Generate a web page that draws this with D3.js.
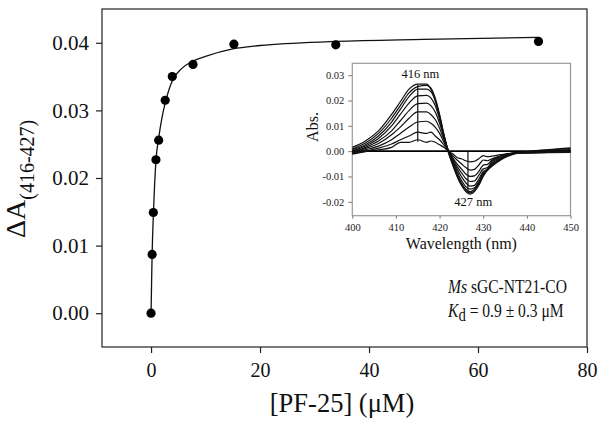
<!DOCTYPE html>
<html>
<head>
<meta charset="utf-8">
<script src="https://cdn.jsdelivr.net/npm/d3@7"></script>
<style>
  html, body { margin: 0; padding: 0; background: #fff; }
  svg { display: block; font-family: "Liberation Serif", "Times New Roman", serif; }
</style>
</head>
<body>
<svg id="chart" width="604" height="427"></svg>
<script>
// ---------------- data ----------------
// main titration: [PF-25] (µM) vs ΔA(416-427)
const concentration = [0, 0.2, 0.42, 0.9, 1.4, 2.6, 3.9, 7.7, 15.2, 33.9, 71.1];
const deltaA        = [0, 0.0087, 0.0149, 0.0227, 0.0256, 0.0315, 0.0350, 0.0368, 0.0398, 0.0397, 0.0402];

// fitted binding curve
const fitX = [0, 0.1, 0.2, 0.45, 0.9, 1.4, 2.0, 2.6, 3.9, 5.5, 7.7, 10, 15, 20, 34, 50, 71];
const fitY = [0, 0.0045, 0.0088, 0.0150, 0.0226, 0.0259, 0.0289, 0.0311, 0.0344, 0.0361, 0.0373, 0.0380, 0.0391, 0.0396, 0.0402, 0.0405, 0.0408];

const xTicks = [0, 20, 40, 60, 80];
const yTicks = [0.00, 0.01, 0.02, 0.03, 0.04];

// inset: difference spectra (Abs. x 1e-3) at these wavelengths
const wavelengths = [400,403,406,409,411,413,415,417,418,419,420,421,422,423,424,425,426,427,428,429,430,431,432,434,437,440,445,450];
const spec1 = [1.5,4.0,8.0,14.5,19.5,24.5,26.5,26.5,24.5,20.0,13.5,6.0,-0.5,-5.5,-10.0,-13.5,-16.0,-17.0,-16.0,-13.5,-10.0,-7.5,-6.0,-3.5,-1.2,-0.3,0.6,1.3];
const spec2 = [0.8,3.2,7.0,13.0,18.0,23.0,25.5,26.0,25.0,21.0,14.5,6.5,-0.3,-5.0,-9.5,-13.0,-15.5,-16.5,-15.5,-13.0,-9.5,-7.0,-5.5,-3.2,-1.0,-0.2,0.5,1.0];
const spec3 = [0.5,2.5,6.0,11.5,16.5,21.5,24.5,24.5,23.5,20.0,14.0,6.5,0.0,-4.5,-9.0,-12.5,-15.0,-16.0,-15.0,-12.5,-9.0,-7.5,-5.5,-3.0,-1.0,-0.3,0.3,0.6];
const spec4 = [0.0,2.0,5.0,10.0,14.5,19.0,21.8,22.0,21.0,18.0,12.5,6.0,0.2,-4.0,-8.0,-11.5,-14.0,-15.0,-14.5,-12.0,-8.5,-7.5,-5.0,-2.8,-1.0,-0.4,0.1,0.3];
const spec5 = [-0.3,1.5,4.0,8.0,12.0,16.0,18.8,19.0,18.0,15.5,11.0,5.5,0.3,-3.5,-7.0,-10.0,-12.5,-13.8,-13.5,-11.0,-8.0,-7.0,-4.5,-2.5,-0.8,-0.4,0.0,0.1];
const spec6 = [-0.6,1.0,3.0,6.5,9.5,13.0,15.5,15.5,14.5,12.5,9.0,4.5,0.3,-3.0,-6.0,-8.5,-10.8,-12.0,-11.8,-9.5,-7.0,-6.5,-4.0,-2.2,-0.8,-0.5,-0.2,0.0];
const spec7 = [-0.8,0.5,2.0,4.5,7.0,9.5,11.5,11.8,11.0,9.5,7.0,3.5,0.3,-2.5,-5.0,-7.0,-9.0,-10.0,-9.8,-8.0,-5.5,-5.2,-3.5,-2.0,-0.8,-0.6,-0.3,-0.2];
const spec8 = [-1.0,0.0,1.2,2.8,4.5,6.0,7.5,7.0,7.5,6.0,4.5,2.5,0.2,-1.8,-3.5,-5.0,-6.5,-7.5,-7.2,-5.5,-3.5,-3.8,-3.0,-1.8,-0.8,-0.7,-0.5,-0.4];
const spec9 = [-1.2,-0.2,0.5,1.5,3.5,3.5,4.5,3.5,4.0,3.5,2.5,1.5,0.0,-1.0,-2.5,-3.0,-3.8,-4.2,-4.0,-3.0,-1.8,-2.2,-2.0,-1.4,-0.8,-0.8,-0.6,-0.5];
const spectra = [spec1, spec2, spec3, spec4, spec5, spec6, spec7, spec8, spec9];

const insetXTicks = [400, 410, 420, 430, 440, 450];
const insetYTicks = [-0.02, -0.01, 0.00, 0.01, 0.02, 0.03];
// vertical markers in the inset: wavelength, from, to (Abs.)
const markerWl   = [415, 426.5];
const markerFrom = [0.0037, 0.0];
const markerTo   = [0.0262, -0.0165];
const markerLabel = ["416 nm", "427 nm"];
const markerLabelWl = [415.6, 427.7];
const markerLabelAbs = [0.029, -0.0215];

// ---------------- drawing ----------------
const svg = d3.select("#chart");
const M = { left: 102, right: 587, top: 9, bottom: 347 };

const x = d3.scaleLinear().domain([-9, 80]).range([M.left, M.right]);
const y = d3.scaleLinear().domain([-0.005, 0.045]).range([M.bottom, M.top]);

// frame
svg.append("rect")
  .attr("x", M.left).attr("y", M.top)
  .attr("width", M.right - M.left).attr("height", M.bottom - M.top)
  .attr("fill", "none").attr("stroke", "#222").attr("stroke-width", 1.2);

// axes
const xAxis = svg.append("g").attr("transform", `translate(0,${M.bottom})`)
  .call(d3.axisBottom(x).tickValues(xTicks).tickSize(6).tickPadding(10).tickFormat(d3.format("d")));
const yAxis = svg.append("g").attr("transform", `translate(${M.left},0)`)
  .call(d3.axisLeft(y).tickValues(yTicks).tickSize(6).tickPadding(7).tickFormat(d3.format(".2f")));
[xAxis, yAxis].forEach(g => {
  g.select(".domain").remove();
  g.selectAll("line").attr("stroke", "#222").attr("stroke-width", 1.2);
  g.selectAll("text").attr("font-family", "Liberation Serif").attr("font-size", 20).attr("fill", "#111");
});
yAxis.selectAll("text").attr("font-size", 21);

// fit curve
svg.append("path")
  .datum(fitX.map((d, i) => [d, fitY[i]]))
  .attr("fill", "none").attr("stroke", "#111").attr("stroke-width", 1.3)
  .attr("d", d3.line().x(d => x(d[0])).y(d => y(d[1])).curve(d3.curveMonotoneX));

// points
svg.append("g").selectAll("circle")
  .data(concentration.map((d, i) => [d, deltaA[i]]))
  .join("circle")
  .attr("cx", d => x(d[0])).attr("cy", d => y(d[1])).attr("r", 4.6)
  .attr("fill", "#000");

// axis titles
svg.append("text")
  .attr("x", 342).attr("y", 412).attr("text-anchor", "middle")
  .attr("font-size", 26.5).attr("fill", "#111")
  .text("[PF-25] (μM)");

const yl = svg.append("text")
  .attr("transform", "translate(25,238) rotate(-90)")
  .attr("fill", "#111");
yl.append("tspan").attr("font-size", 28).text("ΔA");
yl.append("tspan").attr("font-size", 20).attr("dy", 9).text("(416-427)");

// annotation
const a1 = svg.append("text").attr("transform", "translate(448,293) scale(0.82,1)")
  .attr("font-size", 19).attr("fill", "#111");
a1.append("tspan").attr("font-style", "italic").text("Ms");
a1.append("tspan").text(" sGC-NT21-CO");
const a2 = svg.append("text").attr("transform", "translate(448,317) scale(0.82,1)")
  .attr("font-size", 19).attr("fill", "#111");
a2.append("tspan").attr("font-style", "italic").text("K");
a2.append("tspan").attr("font-size", 18).attr("dy", 4).text("d");
a2.append("tspan").attr("dy", -4).text(" = 0.9 ± 0.3 μM");

// ---------------- inset ----------------
const I = { left: 352.3, right: 570.5, top: 63.3, bottom: 215.7 };
const ix = d3.scaleLinear().domain([400, 450]).range([I.left, I.right]);
const iy = d3.scaleLinear().domain([-0.0255, 0.0347]).range([I.bottom, I.top]);

svg.append("rect")
  .attr("x", I.left).attr("y", I.top)
  .attr("width", I.right - I.left).attr("height", I.bottom - I.top)
  .attr("fill", "#fff").attr("stroke", "#999").attr("stroke-width", 1.2);

const ixAxis = svg.append("g").attr("transform", `translate(0,${I.bottom})`)
  .call(d3.axisBottom(ix).tickValues(insetXTicks).tickSize(3).tickPadding(5).tickFormat(d3.format("d")));
const iyAxis = svg.append("g").attr("transform", `translate(${I.left},0)`)
  .call(d3.axisLeft(iy).tickValues(insetYTicks).tickSize(4).tickPadding(4).tickFormat(d => d3.format(".2f")(d).replace("−", "-")));
[ixAxis, iyAxis].forEach(g => {
  g.select(".domain").remove();
  g.selectAll("line").attr("stroke", "#777").attr("stroke-width", 1);
  g.selectAll("text").attr("font-family", "Liberation Serif").attr("font-size", 10.5).attr("fill", "#222");
});

// zero line
svg.append("line")
  .attr("x1", ix(400)).attr("x2", ix(450)).attr("y1", iy(0)).attr("y2", iy(0))
  .attr("stroke", "#000").attr("stroke-width", 1.8);

// spectra
const sLine = d3.line().x(d => ix(d[0])).y(d => iy(d[1] / 1000)).curve(d3.curveMonotoneX);
svg.append("g").selectAll("path")
  .data(spectra.map(s => wavelengths.map((w, i) => [w, s[i]])))
  .join("path")
  .attr("fill", "none").attr("stroke", "#111").attr("stroke-width", 1.2)
  .attr("d", sLine);

// markers
svg.append("g").selectAll("line")
  .data(markerWl.map((w, i) => i))
  .join("line")
  .attr("x1", i => ix(markerWl[i])).attr("x2", i => ix(markerWl[i]))
  .attr("y1", i => iy(markerFrom[i])).attr("y2", i => iy(markerTo[i]))
  .attr("stroke", "#111").attr("stroke-width", 1.2);
svg.append("g").selectAll("text")
  .data(markerLabel.map((t, i) => i))
  .join("text")
  .attr("x", i => ix(markerLabelWl[i])).attr("y", i => iy(markerLabelAbs[i]))
  .attr("text-anchor", "middle").attr("font-size", 12.5).attr("fill", "#111")
  .text(i => markerLabel[i]);

// inset titles
svg.append("text")
  .attr("x", (I.left + I.right) / 2).attr("y", 249).attr("text-anchor", "middle")
  .attr("font-size", 16).attr("fill", "#111").text("Wavelength (nm)");
svg.append("text")
  .attr("transform", "translate(318,127) rotate(-90)").attr("text-anchor", "middle")
  .attr("font-size", 16).attr("fill", "#111").text("Abs.");
</script>
</body>
</html>
